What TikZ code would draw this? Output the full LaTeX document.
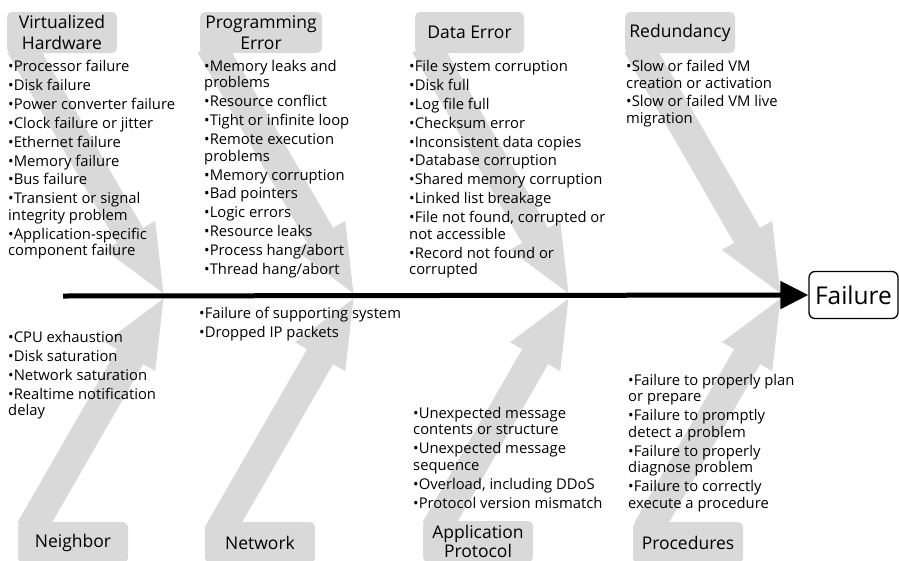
\documentclass[tikz,border=0pt]{standalone}
\usepackage{fontspec}
\setmainfont{Open Sans}
\usetikzlibrary{arrows.meta, backgrounds}
\definecolor{fishgray}{RGB}{217,217,217}
\newcommand{\itemfont}{\fontsize{14.8}{16.5}\selectfont}
\newcommand{\titlefont}{\fontsize{17.5}{20.5}\selectfont}

\begin{document}
\begin{tikzpicture}[x=1pt,y=-1pt,
  cause/.style={fill=fishgray,rounded corners=5pt,minimum width=110pt,
    minimum height=41pt,inner sep=0pt,align=center,font=\titlefont},
  items/.style={anchor=north west,inner sep=0pt,align=left,font=\itemfont,
    execute at begin node={\rule{0pt}{11pt}}},
  bone/.style={fishgray,line width=30pt,-{Triangle[length=70pt,width=52pt]}}]

\useasboundingbox (0,0) rectangle (899,560);

% cause boxes
\node[cause] (vh) at (62,32.5) {Virtualized\\Hardware};
\node[cause,minimum width=122pt] (pe) at (261,32.5) {Programming\\Error};
\node[cause,minimum width=109pt] (de) at (469.5,32.5) {Data Error};
\node[cause] (rd) at (680,32.5) {Redundancy};

\node[cause] (nb) at (73,542.5) {Neighbor};
\node[cause] (nw) at (260,542.5) {Network};
\node[cause,font=\fontsize{17.5}{19}\selectfont] (ap) at (478,541.5) {Application\\Protocol};
\node[cause] (pr) at (688,542.5) {Procedures};

% points on the spine
\coordinate (vhTip) at (165,296);
\coordinate (peTip) at (355,296);
\coordinate (deTip) at (570,296);
\coordinate (rdTip) at (782,296);

\coordinate (vhTail) at (20.4,45);
\coordinate (peTail) at (210.4,45);
\coordinate (deTail) at (425.4,45);
\coordinate (rdTail) at (637.4,45);

\coordinate (nbTail) at (30.4,530);
\coordinate (nwTail) at (220.4,530);
\coordinate (apTail) at (435.4,530);
\coordinate (prTail) at (647.4,530);

\begin{scope}[on background layer]
\draw[bone] (vhTail) -- (vhTip);
\draw[bone] (peTail) -- (peTip);
\draw[bone] (deTail) -- (deTip);
\draw[bone] (rdTail) -- (rdTip);
\draw[bone] (nbTail) -- (vhTip);
\draw[bone] (nwTail) -- (peTip);
\draw[bone] (apTail) -- (deTip);
\draw[bone] (prTail) -- (rdTip);
\end{scope}

% lists
\node[items] (vhList) at (8,60) {%
•Processor failure\\[2.4pt]
•Disk failure\\[2.4pt]
•Power converter failure\\[2.4pt]
•Clock failure or jitter\\[2.4pt]
•Ethernet failure\\[2.4pt]
•Memory failure\\[2.4pt]
•Bus failure\\[2.4pt]
•Transient or signal\\integrity problem\\[2.4pt]
•Application-specific\\component failure};

\node[items] (peList) at (204,60) {%
•Memory leaks and\\problems\\[2.4pt]
•Resource conflict\\[2.4pt]
•Tight or infinite loop\\[2.4pt]
•Remote execution\\problems\\[2.4pt]
•Memory corruption\\[2.4pt]
•Bad pointers\\[2.4pt]
•Logic errors\\[2.4pt]
•Resource leaks\\[2.4pt]
•Process hang/abort\\[2.4pt]
•Thread hang/abort};

\node[items] (deList) at (409,60) {%
•File system corruption\\[2.4pt]
•Disk full\\[2.4pt]
•Log file full\\[2.4pt]
•Checksum error\\[2.4pt]
•Inconsistent data copies\\[2.4pt]
•Database corruption\\[2.4pt]
•Shared memory corruption\\[2.4pt]
•Linked list breakage\\[2.4pt]
•File not found, corrupted or\\not accessible\\[2.4pt]
•Record not found or\\corrupted};

\node[items] (rdList) at (626,60) {%
•Slow or failed VM\\creation or activation\\[2.4pt]
•Slow or failed VM live\\migration};

\node[items] (nwList) at (199,307) {%
•Failure of supporting system\\[2.4pt]
•Dropped IP packets};

\node[items] (nbList) at (8,331) {%
•CPU exhaustion\\[2.4pt]
•Disk saturation\\[2.4pt]
•Network saturation\\[2.4pt]
•Realtime notification\\delay};

\node[items] (apList) at (413,407) {%
•Unexpected message\\contents or structure\\[2.4pt]
•Unexpected message\\sequence\\[2.4pt]
•Overload, including DDoS\\[2.4pt]
•Protocol version mismatch};

\node[items] (prList) at (628,374) {%
•Failure to properly plan\\or prepare\\[2.4pt]
•Failure to promptly\\detect a problem\\[2.4pt]
•Failure to properly\\diagnose problem\\[2.4pt]
•Failure to correctly\\execute a procedure};

% spine and effect
\node[draw,line width=1.3pt,rounded corners=6pt,minimum width=89pt,
  minimum height=47pt,font=\fontsize{24.5}{28}\selectfont] (fail) at (853.5,295) {Failure};
\coordinate (spineStart) at (63,296);
\draw[line width=5pt,-{Triangle[length=28pt,width=27pt]}] (spineStart) -- (fail.west);

\end{tikzpicture}
\end{document}
